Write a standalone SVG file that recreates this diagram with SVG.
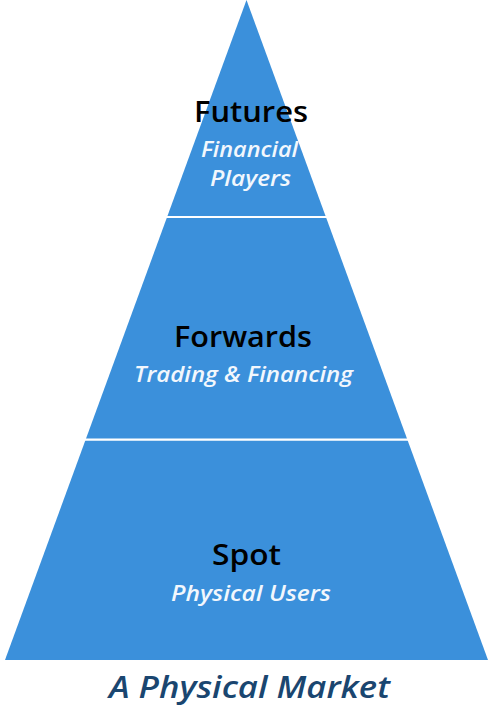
<svg xmlns="http://www.w3.org/2000/svg" width="489" height="707" viewBox="0 0 489 707">
<style>
.t{font-family:"Open Sans","Liberation Sans",sans-serif;font-weight:600;font-size:29px;fill:#000}
.s{font-family:"Open Sans","Liberation Sans",sans-serif;font-style:italic;font-weight:600;font-size:21px;fill:#f2f7fd}
.c{font-family:"Open Sans","Liberation Sans",sans-serif;font-style:italic;font-weight:600;font-size:30px;fill:#1a4670}
</style>
<rect width="489" height="707" fill="#fff"/>
<g id="pyramid">
<polygon points="246.5,0 5,660 488,660" fill="#3b90db"/>
<line x1="0" y1="217" x2="489" y2="217" stroke="#fff" stroke-width="2.2"/>
<line x1="0" y1="439.7" x2="489" y2="439.7" stroke="#fff" stroke-width="2.2"/>
</g>
<g id="futures">
<text class="t" x="194" y="122" textLength="114" lengthAdjust="spacingAndGlyphs">Futures</text>
<text class="s" x="201" y="157" textLength="97" lengthAdjust="spacingAndGlyphs">Financial</text>
<text class="s" x="210" y="186" textLength="81" lengthAdjust="spacingAndGlyphs">Players</text>
</g>
<g id="forwards">
<text class="t" x="174" y="347" textLength="138" lengthAdjust="spacingAndGlyphs">Forwards</text>
<text class="s" x="134" y="382" textLength="219" lengthAdjust="spacingAndGlyphs">Trading &amp; Financing</text>
</g>
<g id="spot">
<text class="t" x="212" y="565" textLength="69" lengthAdjust="spacingAndGlyphs">Spot</text>
<text class="s" x="171" y="601" textLength="160" lengthAdjust="spacingAndGlyphs">Physical Users</text>
</g>
<g id="caption">
<text class="c" x="109" y="698" textLength="281" lengthAdjust="spacingAndGlyphs">A Physical Market</text>
</g>
</svg>
